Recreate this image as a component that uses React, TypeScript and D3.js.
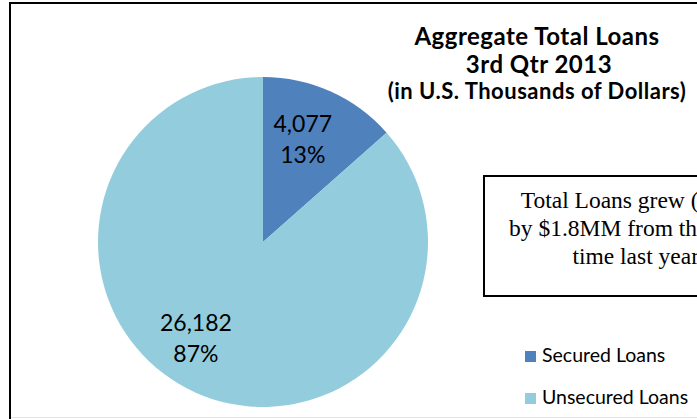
import React from 'react';
import * as d3 from 'd3';

const categories = ['Secured Loans', 'Unsecured Loans'];
const values = [4077, 26182];
const valueLabels = ['4,077', '26,182'];
const percentLabels = ['13%', '87%'];
const colors = ['#4F81BD', '#93CDDD'];
const labelAngleShift = [-1.5, 8.5];
const labelRadius = [103, 124];
const titleLines = ['Aggregate Total Loans', '3rd Qtr 2013', '(in U.S. Thousands of Dollars)'];
const noteLines = ['Total Loans grew (6.3%)', 'by $1.8MM from this same', 'time last year.'];

const W = 697;
const H = 419;
const cx = 263;
const cy = 242;
const R = 165;
const SANS = 'Lato, "Open Sans", sans-serif';
const SERIF = '"Liberation Serif", "DejaVu Serif", serif';

export default function App() {
  const pie = d3.pie<number>().sort(null).value((d) => d);
  const arcs = pie(values);
  const arc = d3.arc<d3.PieArcDatum<number>>().innerRadius(0).outerRadius(R);

  return (
    <svg
      width={W}
      height={H}
      style={{ position: 'absolute', left: 0, top: 0, background: '#fff' }}
    >
      <rect x={0} y={0} width={W} height={H} fill="#fff" />
      {/* chart border */}
      <line x1={10} y1={3} x2={W + 5} y2={3} stroke="#000" strokeWidth={2} />
      <line x1={10} y1={2} x2={10} y2={H} stroke="#000" strokeWidth={2} />
      <line x1={11} y1={417.5} x2={W} y2={417.5} stroke="#e4e4e4" strokeWidth={1} />

      <g transform={`translate(${cx},${cy})`}>
        {arcs.map((a, i) => (
          <path key={categories[i]} d={arc(a) || ''} fill={colors[i]} />
        ))}
        {arcs.map((a, i) => {
          const ang = (a.startAngle + a.endAngle) / 2 + (labelAngleShift[i] * Math.PI) / 180;
          const x = labelRadius[i] * Math.sin(ang);
          const y = -labelRadius[i] * Math.cos(ang);
          return (
            <text
              key={'l' + i}
              x={x}
              y={y}
              textAnchor="middle"
              fontFamily={SANS}
              fontSize={23}
              fill="#000"
            >
              <tspan x={x} dy={-15}>{valueLabels[i]}</tspan>
              <tspan x={x} dy={31}>{percentLabels[i]}</tspan>
            </text>
          );
        })}
      </g>

      {/* title */}
      <text textAnchor="middle" fontFamily={SANS} fontWeight="bold" fill="#000" letterSpacing={0.5}>
        <tspan x={537} y={45} fontSize={24}>{titleLines[0]}</tspan>
        <tspan x={539} y={73} fontSize={24}>{titleLines[1]}</tspan>
        <tspan x={537} y={99} fontSize={22}>{titleLines[2]}</tspan>
      </text>

      {/* note box */}
      <rect x={484} y={176} width={300} height={120} fill="#fff" stroke="#000" strokeWidth={2} />
      <text textAnchor="middle" fontFamily={SERIF} fontSize={23.5} fill="#000">
        {noteLines.map((t, i) => (
          <tspan key={t} x={638} y={208 + i * 28}>{t}</tspan>
        ))}
      </text>

      {/* legend */}
      {categories.map((c, i) => (
        <g key={c} transform={`translate(525,${351 + i * 42})`}>
          <rect x={0} y={0} width={11} height={11} fill={colors[i]} />
          <text x={17} y={11} fontFamily={SANS} fontSize={19.5} fill="#000">{c}</text>
        </g>
      ))}
    </svg>
  );
}
